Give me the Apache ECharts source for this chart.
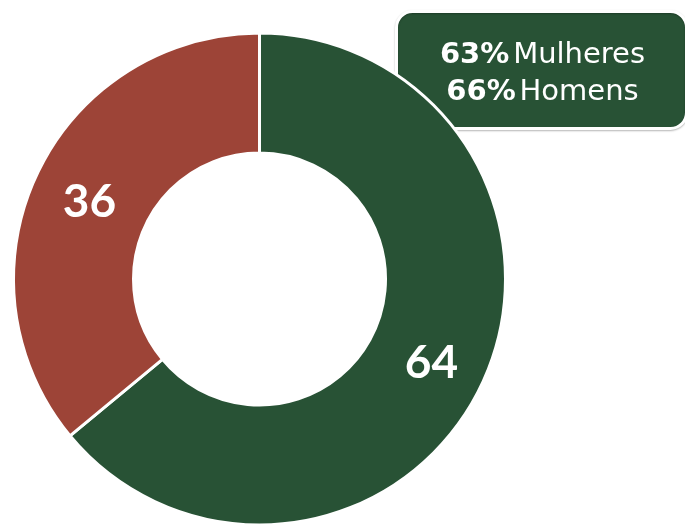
<!DOCTYPE html>
<html>
<head>
<meta charset="utf-8">
<script src="https://cdn.jsdelivr.net/npm/echarts@6/dist/echarts.min.js"></script>
<style>
  html, body { margin: 0; padding: 0; background: #ffffff; }
  #chart { width: 685px; height: 524px; }
</style>
</head>
<body>
<div id="chart"></div>
<script>
// Share of respondents (percent), drawn clockwise from 12 o'clock
const categories = ['Sim', 'Não'];
const values = [64, 36];
const colors = ['#285235', '#9d4437'];

// Callout lines: bold figure + regular word
const calloutFigures = ['63%', '66%'];
const calloutWords = ['Mulheres', 'Homens'];

const LABEL_FONT = 'Lato, "Noto Sans", sans-serif';
const CALLOUT_FONT = '"DejaVu Sans", "Noto Sans", sans-serif';

const chart = echarts.init(document.getElementById('chart'), null, { renderer: 'canvas' });

const calloutText = calloutFigures
  .map((f, i) => '{b|' + f + '} {r|' + calloutWords[i] + '}')
  .join('\n');

chart.setOption({
  animation: false,
  backgroundColor: '#ffffff',
  series: [{
    type: 'pie',
    center: [259.5, 279],
    radius: [126, 246],
    startAngle: 90,
    clockwise: true,
    silent: true,
    itemStyle: { borderColor: '#ffffff', borderWidth: 3 },
    label: {
      show: true,
      position: 'inside',
      formatter: '{c}',
      color: '#ffffff',
      fontFamily: LABEL_FONT,
      fontWeight: 'bold',
      fontSize: 46,
      offset: [1, 4]
    },
    labelLine: { show: false },
    data: categories.map((c, i) => ({
      name: c,
      value: values[i],
      itemStyle: { color: colors[i] }
    }))
  }],
  graphic: [{
    type: 'group',
    left: 395,
    top: 10,
    z: 10,
    children: [{
      type: 'rect',
      shape: { x: 0, y: 0, width: 290, height: 117, r: 16 },
      style: {
        fill: '#285235',
        stroke: '#ffffff',
        lineWidth: 3,
        shadowColor: 'rgba(0,0,0,0.25)',
        shadowBlur: 2,
        shadowOffsetX: 0,
        shadowOffsetY: 1
      }
    }, {
      type: 'text',
      x: 146,
      y: 62,
      style: {
        text: calloutText,
        align: 'center',
        verticalAlign: 'middle',
        fill: '#ffffff',
        fontFamily: CALLOUT_FONT,
        lineHeight: 37,
        rich: {
          b: { fontSize: 29, fontWeight: 'bold', fill: '#ffffff', fontFamily: CALLOUT_FONT, lineHeight: 37 },
          r: { fontSize: 29, fontWeight: 'normal', fill: '#ffffff', fontFamily: CALLOUT_FONT, lineHeight: 37 }
        }
      }
    }]
  }]
});
</script>
</body>
</html>
